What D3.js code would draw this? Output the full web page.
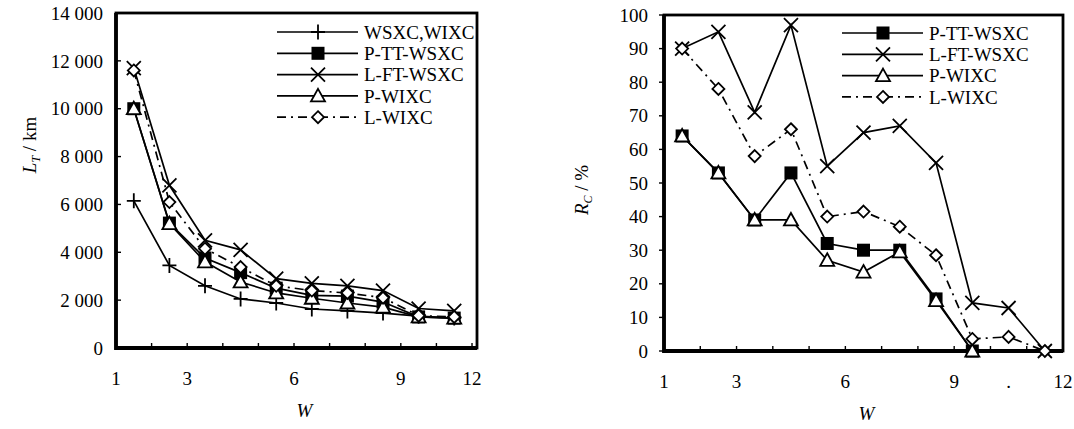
<!DOCTYPE html>
<html>
<head>
<meta charset="utf-8">
<script src="https://cdn.jsdelivr.net/npm/d3@7"></script>
<style>
	body { margin: 0; background: #fff; }
	svg { display: block; }
	svg text { font-family: "Liberation Serif", "Times New Roman", "DejaVu Serif", serif; fill: #000; }
</style>
</head>
<body>
<svg id="chart" width="1074" height="429" font-family="Liberation Serif, Times New Roman, serif"></svg>
<script>
// ---- data (left panel: L_T / km) ----
const wLeft = [1.5, 2.5, 3.5, 4.5, 5.5, 6.5, 7.5, 8.5, 9.5, 10.5];
const ltWsxcWixc = [6150, 3450, 2600, 2050, 1880, 1630, 1550, 1460, 1330, 1250];
const ltPTT = [10000, 5220, 3760, 3150, 2500, 2200, 2170, 1920, 1300, 1250];
const ltLFT = [11700, 6800, 4500, 4100, 2900, 2700, 2600, 2400, 1650, 1550];
const ltPWIXC = [10000, 5200, 3600, 2760, 2300, 2080, 1880, 1710, 1300, 1250];
const ltLWIXC = [11600, 6100, 4150, 3380, 2600, 2400, 2300, 2100, 1350, 1300];
const leftTickVals = [1, 3, 6, 9, 11];
const leftTickText = ["1", "3", "6", "9", "12"];
const leftYTicks = [0, 2000, 4000, 6000, 8000, 10000, 12000, 14000];

// ---- data (right panel: R_C / %) ----
const wRight = [1.5, 2.5, 3.5, 4.5, 5.5, 6.5, 7.5, 8.5, 9.5, 10.5, 11.5];
const rcPTT = [64, 53, 39, 53, 32, 30, 30, 15.5, 0];
const rcLFT = [90, 95, 71, 97, 55, 65, 67, 56, 14.3, 12.8, 0];
const rcPWIXC = [64, 53, 39, 39, 27, 23.5, 29.5, 15, 0];
const rcLWIXC = [90, 78, 58, 66, 40, 41.5, 37, 28.5, 3.6, 4.2, 0];
const rightTickVals = [1, 3, 6, 9, 10.5, 12];
const rightTickText = ["1", "3", "6", "9", ".", "12"];
const rightYTicks = [0, 10, 20, 30, 40, 50, 60, 70, 80, 90, 100];

const svg = d3.select("#chart");
const FONT = "Liberation Serif, Times New Roman, serif";
const fmt = d3.formatLocale({ decimal: ".", thousands: " ", grouping: [3], currency: ["", ""] }).format(",d");

function marker(g, type, x, y) {
	const m = g.append("g").attr("transform", `translate(${x},${y})`);
	if (type === "plus") {
		m.append("path").attr("d", "M-7,0H7M0,-7.5V7.5").attr("stroke", "#000").attr("stroke-width", 1.8);
	} else if (type === "x") {
		m.append("path").attr("d", "M-7,-7L7,7M-7,7L7,-7").attr("stroke", "#000").attr("stroke-width", 1.8);
	} else if (type === "square") {
		m.append("rect").attr("x", -6.5).attr("y", -6.5).attr("width", 13).attr("height", 13).attr("fill", "#000");
	} else if (type === "triangle") {
		m.append("path").attr("d", "M0,-7L7,5.5L-7,5.5Z").attr("fill", "#fff").attr("stroke", "#000").attr("stroke-width", 1.8);
	} else if (type === "diamond") {
		m.append("path").attr("d", "M0,-6L6,0L0,6L-6,0Z").attr("fill", "#fff").attr("stroke", "#000").attr("stroke-width", 1.8);
	}
}

function panel(o) {
	const g = svg.append("g").attr("font-family", FONT);
	const x = d3.scaleLinear().domain(o.xDomain).range([o.left, o.right]);
	const y = d3.scaleLinear().domain(o.yDomain).range([o.bottom, o.top]);

	// box
	g.append("rect")
		.attr("x", o.left).attr("y", o.top)
		.attr("width", o.right - o.left).attr("height", o.bottom - o.top)
		.attr("fill", "none").attr("stroke", "#000").attr("stroke-width", 2.8);
	g.append("path")
		.attr("d", `M${o.left},${o.top}V${o.bottom}H${o.right}`)
		.attr("fill", "none").attr("stroke", "#000").attr("stroke-width", 3.8);

	// x minor ticks (category boundaries)
	d3.range(Math.ceil(o.xDomain[0]) + 1, Math.floor(o.xDomain[1]) + 1).forEach(v => {
		g.append("line").attr("x1", x(v)).attr("x2", x(v))
			.attr("y1", o.bottom).attr("y2", o.bottom - 5)
			.attr("stroke", "#000").attr("stroke-width", 1.4);
	});
	o.xTickVals.forEach((v, i) => {
		g.append("text").attr("x", x(v)).attr("y", o.bottom + 37)
			.attr("text-anchor", "middle").attr("font-size", 19).text(o.xTickText[i]);
	});

	// y ticks
	o.yTicks.forEach(v => {
		g.append("line").attr("x1", o.left).attr("x2", o.left + o.yTickDir * 5)
			.attr("y1", y(v)).attr("y2", y(v)).attr("stroke", "#000").attr("stroke-width", 1.4);
		g.append("text").attr("x", o.left - o.yLabelGap).attr("y", y(v)).attr("dy", "0.35em")
			.attr("text-anchor", "end").attr("font-size", 19).text(o.yFormat(v));
	});

	// axis titles
	g.append("text").attr("x", (o.left + o.right) / 2 + o.wShift).attr("y", o.bottom + 69)
		.attr("text-anchor", "middle").attr("font-size", 19).attr("font-style", "italic").text("W");
	const yt = g.append("text")
		.attr("transform", `translate(${o.yTitleX},${o.yTitleY}) rotate(-90)`)
		.attr("text-anchor", "middle").attr("font-size", 19);
	yt.append("tspan").attr("font-style", "italic").text(o.yTitle[0]);
	yt.append("tspan").attr("font-style", "italic").attr("font-size", 12).attr("dy", 4).text(o.yTitle[1]);
	yt.append("tspan").attr("dy", -4).text(o.yTitle[2]);

	// series
	const line = d3.line().x(d => x(d[0])).y(d => y(d[1]));
	o.series.forEach(s => {
		const pts = s.values.map((v, i) => [o.xs[i], v]);
		g.append("path").datum(pts).attr("d", line)
			.attr("fill", "none").attr("stroke", "#000").attr("stroke-width", 1.7)
			.attr("stroke-dasharray", s.dash || null);
	});
	o.series.forEach(s => {
		s.values.forEach((v, i) => marker(g, s.marker, x(o.xs[i]), y(v)));
	});

	// legend
	o.legend.forEach((s, i) => {
		const ly = o.legendY + i * 21.3;
		g.append("line").attr("x1", o.legendX).attr("x2", o.legendX + 81)
			.attr("y1", ly).attr("y2", ly).attr("stroke", "#000").attr("stroke-width", 1.7)
			.attr("stroke-dasharray", s.dash || null);
		marker(g, s.marker, o.legendX + 41, ly);
		g.append("text").attr("x", o.legendX + 87).attr("y", ly).attr("dy", "0.35em")
			.attr("font-size", 19).text(s.name);
	});
}

const dashLW = "9,5,2,5";

panel({
	left: 116, right: 477, top: 13, bottom: 348,
	xDomain: [1, 11.14], yDomain: [0, 14000],
	xs: wLeft, xTickVals: leftTickVals, xTickText: leftTickText,
	yTicks: leftYTicks, yFormat: v => fmt(v), yTickDir: 1, yLabelGap: 13,
	yTitle: ["L", "T", " / km"], yTitleX: 36, yTitleY: 145, wShift: 8,
	series: [
		{ name: "WSXC,WIXC", marker: "plus", values: ltWsxcWixc },
		{ name: "P-TT-WSXC", marker: "square", values: ltPTT },
		{ name: "L-FT-WSXC", marker: "x", values: ltLFT },
		{ name: "P-WIXC", marker: "triangle", values: ltPWIXC },
		{ name: "L-WIXC", marker: "diamond", values: ltLWIXC, dash: dashLW }
	],
	legendX: 277, legendY: 32,
	legend: [
		{ name: "WSXC,WIXC", marker: "plus" },
		{ name: "P-TT-WSXC", marker: "square" },
		{ name: "L-FT-WSXC", marker: "x" },
		{ name: "P-WIXC", marker: "triangle" },
		{ name: "L-WIXC", marker: "diamond", dash: dashLW }
	]
});

panel({
	left: 664, right: 1063, top: 15, bottom: 351,
	xDomain: [1, 12], yDomain: [0, 100],
	xs: wRight, xTickVals: rightTickVals, xTickText: rightTickText,
	yTicks: rightYTicks, yFormat: v => String(v), yTickDir: -1, yLabelGap: 16,
	yTitle: ["R", "C", " / %"], yTitleX: 588, yTitleY: 190, wShift: 3,
	series: [
		{ name: "P-TT-WSXC", marker: "square", values: rcPTT },
		{ name: "L-FT-WSXC", marker: "x", values: rcLFT },
		{ name: "P-WIXC", marker: "triangle", values: rcPWIXC },
		{ name: "L-WIXC", marker: "diamond", values: rcLWIXC, dash: dashLW }
	],
	legendX: 842, legendY: 33,
	legend: [
		{ name: "P-TT-WSXC", marker: "square" },
		{ name: "L-FT-WSXC", marker: "x" },
		{ name: "P-WIXC", marker: "triangle" },
		{ name: "L-WIXC", marker: "diamond", dash: dashLW }
	]
});
</script>
</body>
</html>
